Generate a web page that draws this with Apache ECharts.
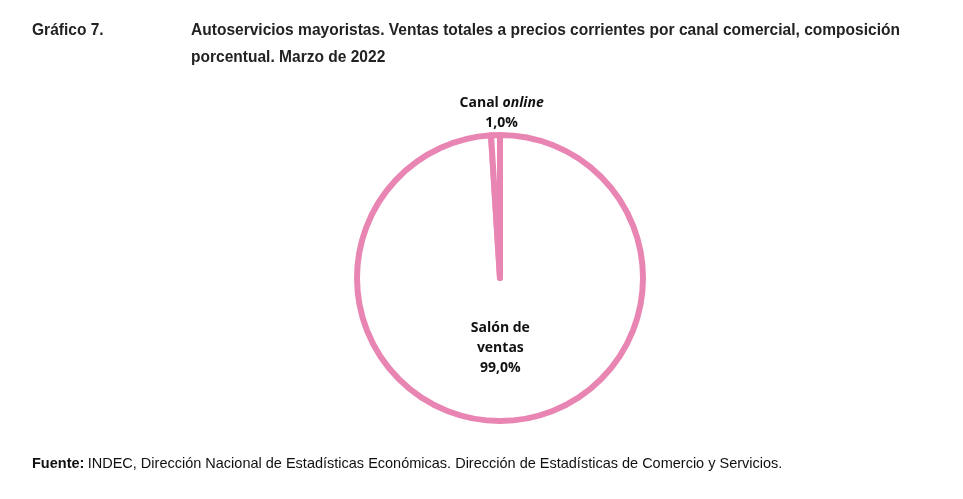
<!DOCTYPE html>
<html><head><meta charset="utf-8">
<script src="https://cdn.jsdelivr.net/npm/echarts@6/dist/echarts.min.js"></script>
<style>html,body{margin:0;padding:0;background:#fff}#c{width:963px;height:499px}</style>
</head><body><div id="c"></div>
<script>
const categories = ['Salón de ventas', 'Canal online'];
const values = [99.0, 1.0];
const labelTexts = ['{b|Salón de}\n{b|ventas}\n{b|99,0%}', '{b|Canal }{i|online}\n{b|1,0%}'];

const pink = '#e985b3';
const chart = echarts.init(document.getElementById('c'));
const rich = {
  b: {fontFamily: "'Open Sans', 'Noto Sans', sans-serif", fontWeight: 'bold', fontSize: 14, color: '#111', lineHeight: 20},
  i: {fontFamily: "'Open Sans', 'Noto Sans', sans-serif", fontWeight: 'bold', fontStyle: 'italic', fontSize: 14, color: '#111', lineHeight: 20}
};
const titleFont = "bold 17px 'Liberation Sans', Arial, sans-serif";
chart.setOption({
  animation: false,
  backgroundColor: '#fff',
  graphic: [
    {type: 'text', x: 32, y: 17, scaleX: 0.914, style: {text: 'Gráfico 7.', font: titleFont, fill: '#222', lineHeight: 27, verticalAlign: 'top'}},
    {type: 'text', x: 191, y: 17, scaleX: 0.914, style: {text: 'Autoservicios mayoristas. Ventas totales a precios corrientes por canal comercial, composición\nporcentual. Marzo de 2022', font: titleFont, fill: '#222', lineHeight: 27, verticalAlign: 'top'}},
    {type: 'text', left: 32, top: 456, style: {
      text: '{b|Fuente:} {n|INDEC, Dirección Nacional de Estadísticas Económicas. Dirección de Estadísticas de Comercio y Servicios.}',
      rich: {
        b: {font: "bold 14.5px 'Liberation Sans', Arial, sans-serif", fill: '#111'},
        n: {font: "14.5px 'Liberation Sans', Arial, sans-serif", fill: '#111'}
      }
    }}
  ],
  series: [{
    type: 'pie',
    center: [500, 278],
    radius: 143,
    startAngle: 90,
    clockwise: true,
    silent: true,
    emphasis: {disabled: true},
    itemStyle: {color: '#fff', borderColor: pink, borderWidth: 6},
    labelLine: {show: false},
    data: categories.map((c, i) => ({
      name: c,
      value: values[i],
      label: i === 0
        ? {show: true, position: 'inside', formatter: labelTexts[i], rich: rich, align: 'center', offset: [-2, -4]}
        : {show: true, position: 'inside', formatter: labelTexts[i], rich: rich, align: 'center', offset: [4, -91]}
    }))
  }]
});
</script></body></html>
